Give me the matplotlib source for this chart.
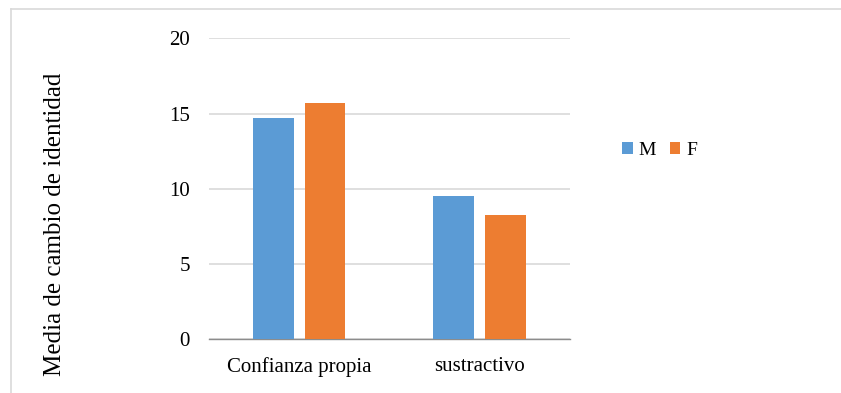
import matplotlib.pyplot as plt
import numpy as np

plt.rcParams['font.family'] = ['Liberation Serif', 'DejaVu Serif']

categorias = ['Confianza propia', 'sustractivo']
media_m = [14.72, 9.52]
media_f = [15.72, 8.28]
yticks = [0, 5, 10, 15, 20]

fig = plt.figure(figsize=(8.41, 3.93), dpi=100)
# chart area border (only top and left edges fall inside the image)
bx, by = 11 / 841, 1 - 8.5 / 393
fig.add_artist(plt.Line2D([bx, 1.0], [by, by], color='#D9D9D9', linewidth=1.2))
fig.add_artist(plt.Line2D([bx, bx], [0.0, by], color='#D9D9D9', linewidth=1.2))

ax = fig.add_axes([209 / 841, 53.7 / 393, 360.7 / 841, 301 / 393])
x = np.arange(len(categorias))
w = 0.225
ax.bar(x - 0.143, media_m, w, color='#5B9BD5', label='M', zorder=3)
ax.bar(x + 0.143, media_f, w, color='#ED7D31', label='F', zorder=3)

ax.set_xlim(-0.5, 1.5)
ax.set_ylim(0, 20)
ax.set_yticks(yticks)
ax.set_xticks(x)
ax.set_xticklabels(categorias)
ax.yaxis.grid(True, color='#D9D9D9', linewidth=1.2, zorder=0)
for s in ['top', 'right', 'left']:
    ax.spines[s].set_visible(False)
ax.spines['bottom'].set_color('#8C8C8C')
ax.spines['bottom'].set_linewidth(1.0)
ax.tick_params(length=0, labelsize=15)
ax.tick_params(axis='x', pad=12.5)
ax.tick_params(axis='y', pad=13.7)

fig.text(55 / 841, 1 - 224.5 / 393, 'Media de cambio de identidad', fontsize=18,
         rotation=90, ha='center', va='center')

fig.legend(loc='center left', bbox_to_anchor=(622 / 841, 1 - 150.4 / 393), frameon=False,
           ncol=2, fontsize=14, handlelength=0.55, handleheight=0.55, handletextpad=0.3,
           columnspacing=0.7, borderpad=0, borderaxespad=0)

fig.savefig('out.png', dpi=100)
